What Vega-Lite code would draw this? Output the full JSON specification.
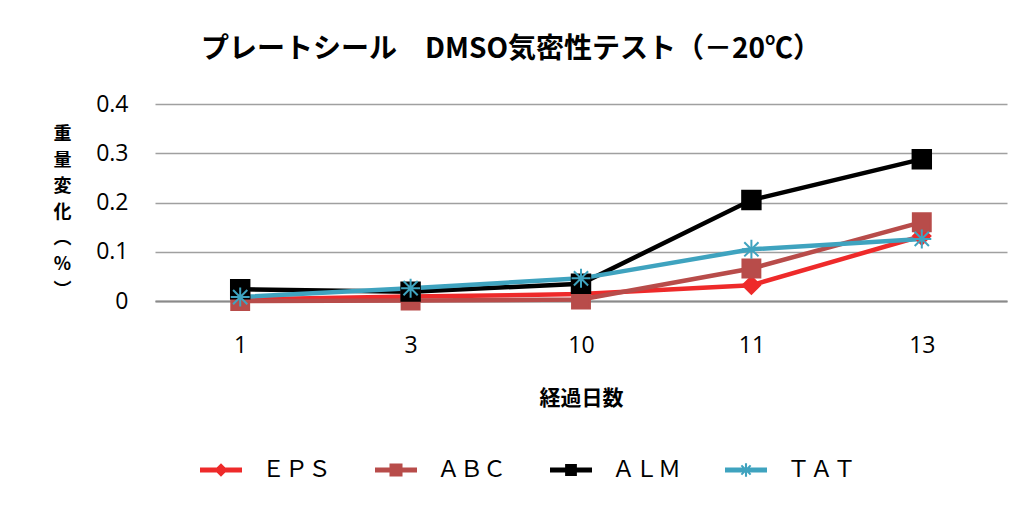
{
  "$schema": "https://vega.github.io/schema/vega-lite/v6.json",
  "width": 852,
  "height": 197,
  "autosize": {"type": "none"},
  "padding": {"left": 155, "top": 104, "right": 25, "bottom": 205},
  "background": "white",
  "title": {
    "text": "プレートシール　DMSO気密性テスト（－20℃）",
    "font": "Noto Sans CJK JP",
    "fontSize": 28,
    "fontWeight": "bold",
    "color": "black",
    "anchor": "middle",
    "dx": -70,
    "offset": 29
  },
  "config": {
    "view": {"stroke": null},
    "font": "Noto Sans CJK JP"
  },
  "data": {
    "values": [
      {"day": "1", "series": "ＥＰＳ", "value": 0.003},
      {"day": "3", "series": "ＥＰＳ", "value": 0.009},
      {"day": "10", "series": "ＥＰＳ", "value": 0.014},
      {"day": "11", "series": "ＥＰＳ", "value": 0.032},
      {"day": "13", "series": "ＥＰＳ", "value": 0.132},
      {"day": "1", "series": "ＡＢＣ", "value": 0.0},
      {"day": "3", "series": "ＡＢＣ", "value": 0.001},
      {"day": "10", "series": "ＡＢＣ", "value": 0.003},
      {"day": "11", "series": "ＡＢＣ", "value": 0.066},
      {"day": "13", "series": "ＡＢＣ", "value": 0.160},
      {"day": "1", "series": "ＡＬＭ", "value": 0.024},
      {"day": "3", "series": "ＡＬＭ", "value": 0.019},
      {"day": "10", "series": "ＡＬＭ", "value": 0.035},
      {"day": "11", "series": "ＡＬＭ", "value": 0.205},
      {"day": "13", "series": "ＡＬＭ", "value": 0.288},
      {"day": "1", "series": "ＴＡＴ", "value": 0.008},
      {"day": "3", "series": "ＴＡＴ", "value": 0.026},
      {"day": "10", "series": "ＴＡＴ", "value": 0.046},
      {"day": "11", "series": "ＴＡＴ", "value": 0.105},
      {"day": "13", "series": "ＴＡＴ", "value": 0.126}
    ]
  },
  "encoding": {
    "x": {
      "field": "day",
      "type": "ordinal",
      "sort": ["1", "3", "10", "11", "13"],
      "scale": {"type": "point", "padding": 0.5},
      "axis": {
        "title": "経過日数",
        "titleFont": "Noto Sans CJK JP",
        "titleFontSize": 21,
        "titleFontWeight": "bold",
        "titleColor": "black",
        "titlePadding": 30,
        "labelAngle": 0,
        "labelFont": "Open Sans",
        "labelFontSize": 23,
        "labelColor": "black",
        "labelPadding": 33,
        "ticks": false,
        "domain": true,
        "domainColor": "#8a8a8a",
        "domainWidth": 2,
        "grid": false
      }
    },
    "y": {
      "field": "value",
      "type": "quantitative",
      "scale": {"domain": [0, 0.4]},
      "axis": {
        "values": [0, 0.1, 0.2, 0.3, 0.4],
        "format": "~g",
        "labelFont": "Open Sans",
        "labelFontSize": 23,
        "labelColor": "black",
        "labelPadding": 27,
        "ticks": false,
        "domain": false,
        "grid": true,
        "gridColor": "#a0a0a0",
        "gridWidth": 1.5,
        "title": ["重", "量", "変", "化", "︵", "%", "︶"],
        "titleFont": "Noto Sans CJK JP",
        "titleFontSize": 18,
        "titleFontWeight": "bold",
        "titleColor": "black",
        "titleAngle": 0,
        "titleAlign": "center",
        "titleBaseline": "middle",
        "titleLineHeight": 26,
        "titleX": -93,
        "titleY": 30
      }
    }
  },
  "layer": [
    {
      "mark": {"type": "line", "strokeWidth": 4.5},
      "encoding": {
        "stroke": {
          "field": "series",
          "type": "nominal",
          "scale": {"domain": ["ＥＰＳ", "ＡＢＣ", "ＡＬＭ", "ＴＡＴ"], "range": ["#ee2a2a", "#b84c4a", "#000000", "#3fa3bf"]},
          "legend": null
        }
      }
    },
    {
      "mark": {"type": "point", "filled": true, "opacity": 1, "strokeWidth": 2},
      "encoding": {
        "shape": {
          "field": "series",
          "type": "nominal",
          "scale": {"domain": ["ＥＰＳ", "ＡＢＣ", "ＡＬＭ", "ＴＡＴ"], "range": ["diamond", "square", "square", "M-1,0H1M0,-1V1M-0.75,-0.75L0.75,0.75M-0.75,0.75L0.75,-0.75"]},
          "legend": null
        },
        "size": {
          "field": "series",
          "type": "nominal",
          "scale": {"domain": ["ＥＰＳ", "ＡＢＣ", "ＡＬＭ", "ＴＡＴ"], "range": [300, 360, 340, 420]},
          "legend": null
        },
        "fill": {
          "field": "series",
          "type": "nominal",
          "scale": {"domain": ["ＥＰＳ", "ＡＢＣ", "ＡＬＭ", "ＴＡＴ"], "range": ["#ee2a2a", "#b84c4a", "#000000", "#3fa3bf"]},
          "legend": null
        },
        "stroke": {
          "field": "series",
          "type": "nominal",
          "legend": null
        }
      }
    },
    {
      "mark": {"type": "point", "filled": true, "opacity": 0},
      "encoding": {
        "color": {
          "field": "series",
          "type": "nominal",
          "scale": {"domain": ["ＥＰＳ", "ＡＢＣ", "ＡＬＭ", "ＴＡＴ"], "range": ["#ee2a2a", "#b84c4a", "#000000", "#3fa3bf"]},
          "legend": {
            "title": null,
            "orient": "none",
            "direction": "horizontal",
            "legendX": 45,
            "legendY": 345,
            "padding": 0,
            "symbolSize": 1764,
            "symbolOpacity": 1,
            "symbolStrokeWidth": 0,
            "labelFont": "Noto Sans CJK JP",
            "labelFontSize": 23,
            "labelColor": "black",
            "labelOffset": 20,
            "columnPadding": 44
          }
        },
        "shape": {
          "field": "series",
          "type": "nominal",
          "scale": {"domain": ["ＥＰＳ", "ＡＢＣ", "ＡＬＭ", "ＴＡＴ"], "range": [
            "M-1,-0.12H1V0.12H-1ZM0,-0.32L0.32,0L0,0.32L-0.32,0Z",
            "M-1,-0.12H1V0.12H-1ZM-0.31,-0.31H0.31V0.31H-0.31Z",
            "M-1,-0.12H1V0.12H-1ZM-0.28,-0.28H0.28V0.28H-0.28Z",
            "M-1,-0.12H1V0.12H-1ZM-0.05,-0.32H0.05V0.32H-0.05ZM-0.185,-0.255L0.255,0.185L0.185,0.255L-0.255,-0.185ZM0.185,-0.255L0.255,-0.185L-0.185,0.255L-0.255,0.185Z"
          ]},
          "legend": {
            "title": null,
            "orient": "none",
            "direction": "horizontal",
            "legendX": 45,
            "legendY": 345,
            "padding": 0,
            "symbolSize": 1764,
            "symbolOpacity": 1,
            "symbolStrokeWidth": 0,
            "labelFont": "Noto Sans CJK JP",
            "labelFontSize": 23,
            "labelColor": "black",
            "labelOffset": 20,
            "columnPadding": 44
          }
        }
      }
    }
  ],
  "resolve": {"scale": {"shape": "independent", "color": "independent"}}
}
